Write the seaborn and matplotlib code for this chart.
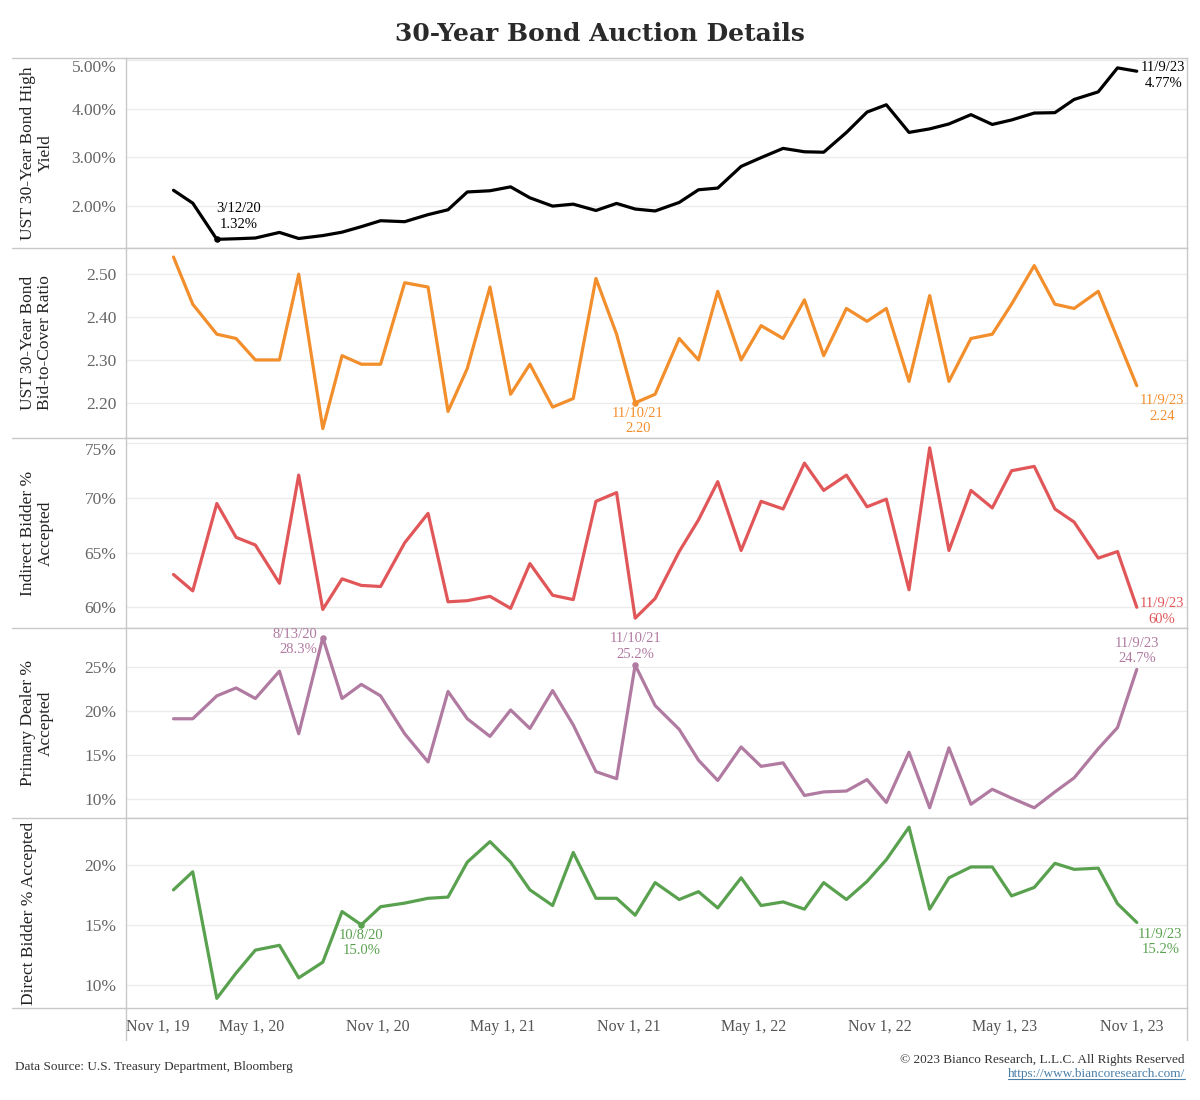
import matplotlib
matplotlib.use("Agg")
import matplotlib.pyplot as plt
import matplotlib.dates as mdates
from matplotlib.lines import Line2D
from matplotlib.ticker import FuncFormatter, FixedLocator
import seaborn as sns
import pandas as pd

# 30-year bond auctions, Jan 2020 - Nov 2023
auction_dates = [
    "2020-01-09", "2020-02-06", "2020-03-12", "2020-04-09", "2020-05-07", "2020-06-11",
    "2020-07-09", "2020-08-13", "2020-09-10", "2020-10-08", "2020-11-05", "2020-12-10",
    "2021-01-13", "2021-02-11", "2021-03-11", "2021-04-13", "2021-05-13", "2021-06-10",
    "2021-07-13", "2021-08-12", "2021-09-14", "2021-10-14", "2021-11-10", "2021-12-09",
    "2022-01-13", "2022-02-10", "2022-03-10", "2022-04-13", "2022-05-12", "2022-06-13",
    "2022-07-14", "2022-08-11", "2022-09-13", "2022-10-13", "2022-11-10", "2022-12-13",
    "2023-01-12", "2023-02-09", "2023-03-13", "2023-04-13", "2023-05-11", "2023-06-13",
    "2023-07-13", "2023-08-10", "2023-09-14", "2023-10-12", "2023-11-09",
]

high_yield = [
    2.325, 2.061, 1.318, 1.330, 1.345, 1.460, 1.335, 1.395, 1.465, 1.578, 1.700, 1.680,
    1.825, 1.925, 2.290, 2.315, 2.395, 2.170, 2.000, 2.040, 1.910, 2.055, 1.940, 1.900,
    2.075, 2.335, 2.370, 2.815, 2.995, 3.185, 3.115, 3.106, 3.511, 3.930, 4.080, 3.513,
    3.585, 3.686, 3.877, 3.676, 3.768, 3.910, 3.918, 4.189, 4.345, 4.837, 4.769,
]

bid_to_cover = [
    2.54, 2.43, 2.36, 2.35, 2.30, 2.30, 2.50, 2.14, 2.31, 2.29, 2.29, 2.48,
    2.47, 2.18, 2.28, 2.47, 2.22, 2.29, 2.19, 2.21, 2.49, 2.36, 2.20, 2.22,
    2.35, 2.30, 2.46, 2.30, 2.38, 2.35, 2.44, 2.31, 2.42, 2.39, 2.42, 2.25,
    2.45, 2.25, 2.35, 2.36, 2.43, 2.52, 2.43, 2.42, 2.46, 2.35, 2.24,
]

indirect_pct = [
    63.0, 61.5, 69.5, 66.4, 65.7, 62.2, 72.1, 59.8, 62.6, 62.0, 61.9, 65.9,
    68.6, 60.5, 60.6, 61.0, 59.9, 64.0, 61.1, 60.7, 69.7, 70.5, 59.0, 60.8,
    65.1, 68.0, 71.5, 65.2, 69.7, 69.0, 73.2, 70.7, 72.1, 69.2, 69.9, 61.6,
    74.6, 65.2, 70.7, 69.1, 72.5, 72.9, 69.0, 67.8, 64.5, 65.1, 60.0,
]

dealer_pct = [
    19.1, 19.1, 21.7, 22.6, 21.4, 24.5, 17.4, 28.3, 21.4, 23.0, 21.7, 17.4,
    14.2, 22.2, 19.1, 17.1, 20.1, 18.0, 22.3, 18.4, 13.1, 12.3, 25.2, 20.6,
    17.9, 14.4, 12.1, 15.9, 13.7, 14.1, 10.4, 10.8, 10.9, 12.2, 9.6, 15.3,
    9.0, 15.8, 9.4, 11.1, 10.1, 9.0, 10.8, 12.4, 15.7, 18.1, 24.7,
]

direct_pct = [
    17.9, 19.4, 8.9, 11.0, 12.9, 13.3, 10.6, 11.9, 16.1, 15.0, 16.5, 16.8,
    17.2, 17.3, 20.2, 21.9, 20.2, 17.9, 16.6, 21.0, 17.2, 17.2, 15.8, 18.5,
    17.1, 17.75, 16.4, 18.9, 16.6, 16.9, 16.3, 18.5, 17.1, 18.6, 20.4, 23.1,
    16.3, 18.9, 19.8, 19.8, 17.4, 18.1, 20.1, 19.6, 19.7, 16.75, 15.2,
]

df = pd.DataFrame({
    "date": pd.to_datetime(auction_dates),
    "high_yield": high_yield,
    "bid_to_cover": bid_to_cover,
    "indirect": indirect_pct,
    "dealer": dealer_pct,
    "direct": direct_pct,
})

panels = [
    ("high_yield", "UST 30-Year Bond High\nYield", "#000000", [2, 3, 4, 5], (1.14, 5.04),
     lambda v, p: f"{v:.2f}%"),
    ("bid_to_cover", "UST 30-Year Bond\nBid-to-Cover Ratio", "#F28E2B", [2.2, 2.3, 2.4, 2.5],
     (2.118, 2.561), lambda v, p: f"{v:.2f}"),
    ("indirect", "Indirect Bidder %\nAccepted", "#E15759", [60, 65, 70, 75], (58.1, 75.5),
     lambda v, p: f"{v:.0f}%"),
    ("dealer", "Primary Dealer %\nAccepted", "#B07AA1", [10, 15, 20, 25], (7.84, 29.4),
     lambda v, p: f"{v:.0f}%"),
    ("direct", "Direct Bidder % Accepted", "#59A14F", [10, 15, 20], (8.1, 23.86),
     lambda v, p: f"{v:.0f}%"),
]

# (panel column, index of point, label fmt, dot?, offset pt, ha, va)
callouts = [
    ("high_yield", 2, "{d}\n{v:.2f}%", True, (16, 6), "center", "bottom"),
    ("high_yield", 46, "{d}\n{v:.2f}%", False, (19, -3), "center", "center"),
    ("bid_to_cover", 22, "{d}\n{v:.2f}", True, (2, -3), "center", "top"),
    ("bid_to_cover", 46, "{d}\n{v:.2f}", False, (18, -6), "center", "top"),
    ("indirect", 46, "{d}\n{v:.0f}%", False, (18, -3), "center", "center"),
    ("dealer", 7, "{d}\n{v:.1f}%", True, (-4, -3), "right", "center"),
    ("dealer", 22, "{d}\n{v:.1f}%", True, (0, 3), "center", "bottom"),
    ("dealer", 46, "{d}\n{v:.1f}%", False, (0, 3), "center", "bottom"),
    ("direct", 9, "{d}\n{v:.1f}%", True, (0, -3), "center", "top"),
    ("direct", 46, "{d}\n{v:.1f}%", False, (17, -4), "center", "top"),
]

sns.set_theme(style="white")
plt.rcParams["font.family"] = ["Liberation Serif", "DejaVu Serif"]

fig = plt.figure(figsize=(12, 11), dpi=100)
left, right = 126 / 1200, 1187 / 1200
top, bottom = 1 - 58 / 1100, 1 - 1008 / 1100
gs = fig.add_gridspec(5, 1, left=left, right=right, top=top, bottom=bottom, hspace=0)

border = "#c8c8c8"
x_start = pd.Timestamp("2019-11-01")
x_end = pd.Timestamp("2024-01-21")

axes = []
for i, (col, label, color, yticks, ylim, fmt) in enumerate(panels):
    ax = fig.add_subplot(gs[i, 0], sharex=axes[0] if axes else None)
    axes.append(ax)
    sns.lineplot(data=df, x="date", y=col, color=color, linewidth=2.3, ax=ax)
    ax.set_ylim(*ylim)
    ax.yaxis.set_major_locator(FixedLocator(yticks))
    ax.yaxis.set_major_formatter(FuncFormatter(fmt))
    ax.grid(axis="y", color="#ececec", linewidth=1)
    ax.set_axisbelow(True)
    for s in ax.spines.values():
        s.set_color(border)
        s.set_linewidth(1)
    ax.tick_params(axis="y", length=0, pad=7, labelsize=12.5, labelcolor="#666666")
    ax.set_xlabel("")
    ax.set_ylabel(label, fontsize=12.5, color="#222222", linespacing=1.1)
    ax.yaxis.label.set_va("center")
    xl = -0.084 if "\n" in label else -0.091
    ax.yaxis.set_label_coords(xl, 0.5)

    for pcol, idx, tpl, dot, off, ha, va in callouts:
        if pcol != col:
            continue
        d = df["date"].iloc[idx]
        v = df[col].iloc[idx]
        dstr = f"{d.month}/{d.day}/{d.strftime('%y')}"
        if dot:
            ax.scatter([d], [v], s=22, color=color, zorder=5, linewidths=0)
        ax.annotate(tpl.format(d=dstr, v=v), xy=(d, v), xytext=off,
                    textcoords="offset points", ha=ha, va=va, fontsize=10.5,
                    color=color, linespacing=1.25)

# push the top tick label of panels 1 and 3 inside the frame
for ax, top_lab in [(axes[0], "5.00%"), (axes[2], "75%")]:
    for t in ax.get_yticklabels():
        if t.get_text() == top_lab:
            t.set_va("top")

ax_b = axes[-1]
ax_b.set_xlim(x_start, x_end)
ax_b.xaxis.set_major_locator(mdates.MonthLocator(bymonth=[5, 11]))
ax_b.xaxis.set_minor_locator(mdates.MonthLocator())
ax_b.xaxis.set_major_formatter(mdates.DateFormatter("%b %-d, %y"))
for ax in axes[:-1]:
    ax.tick_params(axis="x", which="both", bottom=False, labelbottom=False)
ax_b.tick_params(axis="x", which="major", length=5, color="#e0e0e0", pad=3,
                 labelsize=11.5, labelcolor="#555555")
ax_b.tick_params(axis="x", which="minor", length=5, color="#e0e0e0")
fig.canvas.draw()
first = ax_b.get_xticklabels()[0]
first.set_ha("left")

# row dividers reaching into the label column, and the frame going below the axis
for yy in [58, 248, 438, 628, 818, 1008]:
    fig.add_artist(Line2D([12 / 1200, left], [1 - yy / 1100] * 2, color=border, lw=1))
for xx in [126, 1187]:
    fig.add_artist(Line2D([xx / 1200] * 2, [bottom, 1 - 1040 / 1100], color=border, lw=1))

fig.text(0.5, 1 - 34 / 1100, "30-Year Bond Auction Details", ha="center", va="center",
         fontsize=18, fontweight="bold", color="#2a2a2a", family=["DejaVu Serif"])
fig.text(15 / 1200, 1 - 1067 / 1100, "Data Source: U.S. Treasury Department, Bloomberg",
         ha="left", va="center", fontsize=9.5, color="#333333")
fig.text(1185 / 1200, 1 - 1060 / 1100, "\u00a9 2023 Bianco Research, L.L.C. All Rights Reserved",
         ha="right", va="center", fontsize=9.5, color="#333333")
url = fig.text(1185 / 1200, 1 - 1074 / 1100, "https://www.biancoresearch.com/",
               ha="right", va="center", fontsize=9.5, color="#4a7fa8")
fig.canvas.draw()
bb = url.get_window_extent().transformed(fig.transFigure.inverted())
fig.add_artist(Line2D([bb.x0, bb.x1], [bb.y0 + 0.001] * 2, color="#4a7fa8", lw=0.8))

fig.savefig("out.png", dpi=100)
